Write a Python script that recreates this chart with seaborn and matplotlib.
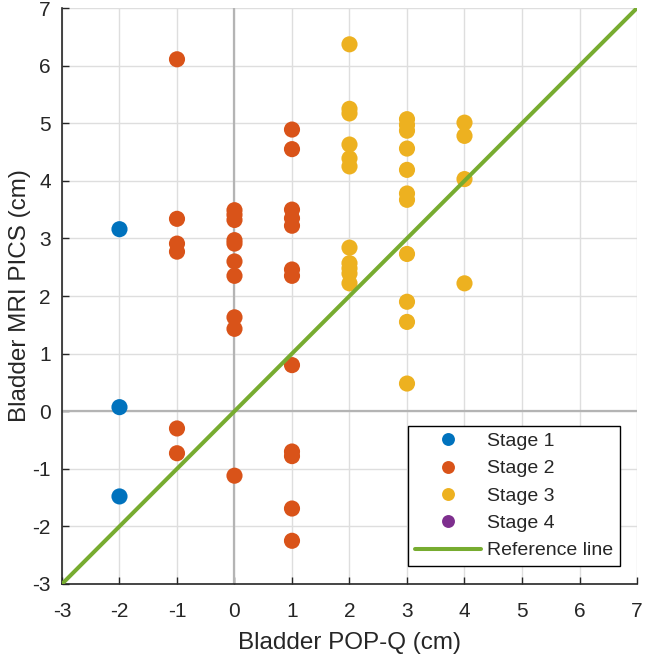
import pandas as pd
import seaborn as sns
import matplotlib.pyplot as plt
from matplotlib.lines import Line2D

# values
stage1_x = [-2, -2, -2]
stage1_y = [3.16, 0.07, -1.48]

stage2_x = [-1] * 6 + [0] * 10 + [1] * 12
stage2_y = [6.11, 3.34, 2.91, 2.77, -0.30, -0.73,
            3.49, 3.41, 3.32, 2.97, 2.91, 2.60, 2.35, 1.63, 1.43, -1.12,
            4.89, 4.55, 3.50, 3.35, 3.22, 2.46, 2.35, 0.80, -0.70, -0.78, -1.69, -2.25]

stage3_x = [2] * 11 + [3] * 11 + [4] * 4
stage3_y = [6.37, 5.25, 5.17, 4.63, 4.39, 4.25, 2.84, 2.57, 2.48, 2.39, 2.22,
            5.07, 4.97, 4.87, 4.56, 4.19, 3.78, 3.67, 2.73, 1.90, 1.55, 0.48,
            5.01, 4.78, 4.03, 2.22]

stages = ["Stage 1", "Stage 2", "Stage 3", "Stage 4"]
colors = ["#0072BD", "#D95319", "#EDB120", "#7E2F8E"]
ref_x = [-3, 7]
ref_y = [-3, 7]
ticks = list(range(-3, 8))

df = pd.DataFrame({
    "pop_q": stage1_x + stage2_x + stage3_x,
    "pics": stage1_y + stage2_y + stage3_y,
    "stage": ["Stage 1"] * len(stage1_x) + ["Stage 2"] * len(stage2_x) + ["Stage 3"] * len(stage3_x),
})
ref = pd.DataFrame({"x": ref_x, "y": ref_y})

sns.set_style("white")
plt.rcParams["font.family"] = ["Liberation Sans", "DejaVu Sans"]
plt.rcParams["axes.unicode_minus"] = False

fig = plt.figure(figsize=(6.45, 6.58), dpi=100)
ax = fig.add_axes([0.0961, 0.1125, 0.8915, 0.8753])

ax.set_xlim(-3, 7)
ax.set_ylim(-3, 7)
ax.set_xticks(ticks)
ax.set_yticks(ticks)
ax.grid(True, color="#DEDEDE", linewidth=1.0)
ax.axhline(0, color="#B4B4B4", linewidth=1.6, zorder=1)
ax.axvline(0, color="#B4B4B4", linewidth=1.6, zorder=1)
ax.set_axisbelow(True)

sns.scatterplot(data=df, x="pop_q", y="pics", hue="stage", hue_order=stages,
                palette=dict(zip(stages, colors)), s=135, linewidth=0,
                legend=False, ax=ax, zorder=3)
sns.lineplot(data=ref, x="x", y="y", color="#77AC30", linewidth=2.9, ax=ax, zorder=4)

for side in ["top", "right"]:
    ax.spines[side].set_visible(False)
for side in ["left", "bottom"]:
    ax.spines[side].set_color("#262626")
    ax.spines[side].set_linewidth(1.2)
ax.tick_params(direction="in", length=5, width=1.0, colors="#262626",
               labelsize=15, left=True, bottom=True)
ax.tick_params(axis="x", pad=13)
ax.tick_params(axis="y", pad=8)
ax.set_xlabel("Bladder POP-Q (cm)", fontsize=17.5, color="#262626", labelpad=8)
ax.set_ylabel("Bladder MRI PICS (cm)", fontsize=17.5, color="#262626", labelpad=1)

handles = [Line2D([], [], marker="o", linestyle="none", markersize=9.3,
                  markerfacecolor=c, markeredgewidth=0) for c in colors]
handles.append(Line2D([], [], color="#77AC30", linewidth=2.9))
leg = ax.legend(handles, stages + ["Reference line"], loc="lower right",
                bbox_to_anchor=(0.9704, 0.031), fontsize=14, frameon=True,
                fancybox=False, edgecolor="black", framealpha=1,
                handlelength=3.4, handletextpad=0.3, labelspacing=0.5,
                borderpad=0.35, borderaxespad=0)
leg.get_frame().set_linewidth(1.0)

fig.savefig("out.png", dpi=100)
